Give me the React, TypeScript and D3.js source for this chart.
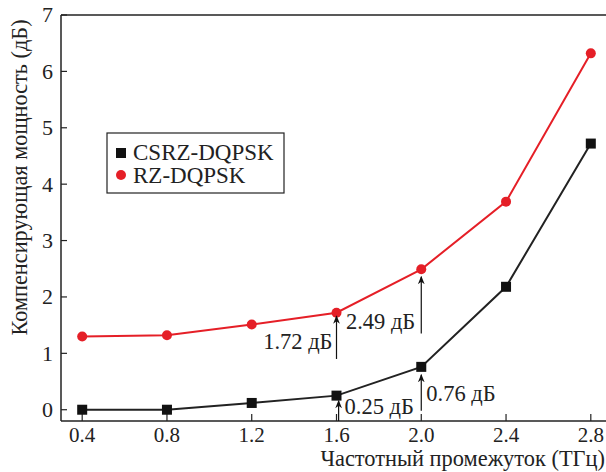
import React from 'react';
import * as d3 from 'd3';

// frequency spacing, THz
const spacing = [0.4, 0.8, 1.2, 1.6, 2.0, 2.4, 2.8];
const csrzPower = [0.0, 0.0, 0.12, 0.25, 0.76, 2.18, 4.72];
const rzPower = [1.3, 1.32, 1.51, 1.72, 2.49, 3.69, 6.32];
const xTickLabels = ['0.4', '0.8', '1.2', '1.6', '2.0', '2.4', '2.8'];
const yTicks = [0, 1, 2, 3, 4, 5, 6, 7];

// annotations: arrow at x, from value up to value, label text
const notes = [
  { x: 1.6, from: 0.9, to: 1.66, text: '1.72 дБ', anchor: 'end', dx: -4, ty: 1.22 },
  { x: 2.0, from: 1.35, to: 2.36, text: '2.49 дБ', anchor: 'end', dx: -6, ty: 1.58 },
  { x: 1.61, from: -0.2, to: 0.16, text: '0.25 дБ', anchor: 'start', dx: 6, ty: 0.07 },
  { x: 2.0, from: -0.02, to: 0.62, text: '0.76 дБ', anchor: 'start', dx: 5, ty: 0.3 },
];

const RED = '#e51f27';
const txt = { fontFamily: "'Liberation Serif'" };

export default function App() {
  const left = 61;
  const right = 612;
  const top = 15;
  const bottom = 421;

  const x = d3.scaleLinear().domain([0.3, 2.9]).range([left, right]);
  const y = d3.scaleLinear().domain([-0.2, 7]).range([bottom, top]);

  const line = d3
    .line<number>()
    .x((_, i) => x(spacing[i]))
    .y((d) => y(d));

  return (
    <svg width={606} height={472} style={{ position: 'absolute', left: 0, top: 0 }}>
      <defs>
        <marker id="arr" viewBox="0 0 10 10" refX="9" refY="5" markerWidth="7" markerHeight="9" orient="auto">
          <path d="M0,1 L10,5 L0,9 L3,5 Z" fill="#111" />
        </marker>
      </defs>

      {/* frame */}
      <line x1={left} x2={right} y1={top} y2={top} stroke="#222" strokeWidth={1.5} />
      <line x1={left} x2={right} y1={bottom} y2={bottom} stroke="#222" strokeWidth={1.5} />
      <line x1={left} x2={left} y1={top} y2={bottom} stroke="#222" strokeWidth={1.5} />

      {/* y ticks */}
      {yTicks.map((t) => (
        <g key={t}>
          <line x1={left} x2={left + 6} y1={y(t)} y2={y(t)} stroke="#222" strokeWidth={1.2} />
          <text x={left - 8} y={y(t)} dy="0.34em" textAnchor="end" fontSize={22} fill="#222" style={txt}>
            {t}
          </text>
        </g>
      ))}

      {/* x ticks */}
      {spacing.map((s, i) => (
        <g key={s}>
          <line x1={x(s)} x2={x(s)} y1={bottom} y2={bottom - 7} stroke="#222" strokeWidth={1.2} />
          <text x={x(s)} y={442} textAnchor="middle" fontSize={21} fill="#222" style={txt}>
            {xTickLabels[i]}
          </text>
        </g>
      ))}

      {/* axis titles */}
      <text x={605} y={466} textAnchor="end" fontSize={22.4} fill="#222" style={txt}>
        Частотный промежуток (ТГц)
      </text>
      <text
        transform={`translate(27, ${(top + 340) / 2}) rotate(-90)`}
        textAnchor="middle"
        fontSize={22.3}
        fill="#222"
        style={txt}
      >
        Компенсирующая мощность (дБ)
      </text>

      {/* series */}
      <path d={line(rzPower) || ''} fill="none" stroke={RED} strokeWidth={2} />
      <path d={line(csrzPower) || ''} fill="none" stroke="#222" strokeWidth={2} />
      {rzPower.map((v, i) => (
        <circle key={i} cx={x(spacing[i])} cy={y(v)} r={5} fill={RED} />
      ))}
      {csrzPower.map((v, i) => (
        <rect key={i} x={x(spacing[i]) - 5} y={y(v) - 5} width={10} height={10} fill="#111" />
      ))}

      {/* annotations */}
      {notes.map((n, i) => (
        <g key={i}>
          <line
            x1={x(n.x)}
            x2={x(n.x)}
            y1={y(n.from)}
            y2={y(n.to)}
            stroke="#111"
            strokeWidth={1.2}
            markerEnd="url(#arr)"
          />
          <text
            x={x(n.x) + n.dx}
            y={y(n.ty)}
            dy="0.35em"
            textAnchor={n.anchor}
            fontSize={22.5}
            fill="#222"
            style={txt}
          >
            {n.text}
          </text>
        </g>
      ))}

      {/* legend */}
      <rect x={107} y={133} width={177} height={60} fill="#fff" stroke="#222" strokeWidth={1.2} />
      <rect x={116} y={148} width={10} height={10} fill="#111" />
      <text x={133} y={160} fontSize={23} fill="#222" style={txt}>CSRZ-DQPSK</text>
      <circle cx={121} cy={175} r={5} fill={RED} />
      <text x={133} y={183} fontSize={23} fill="#222" style={txt}>RZ-DQPSK</text>
    </svg>
  );
}
